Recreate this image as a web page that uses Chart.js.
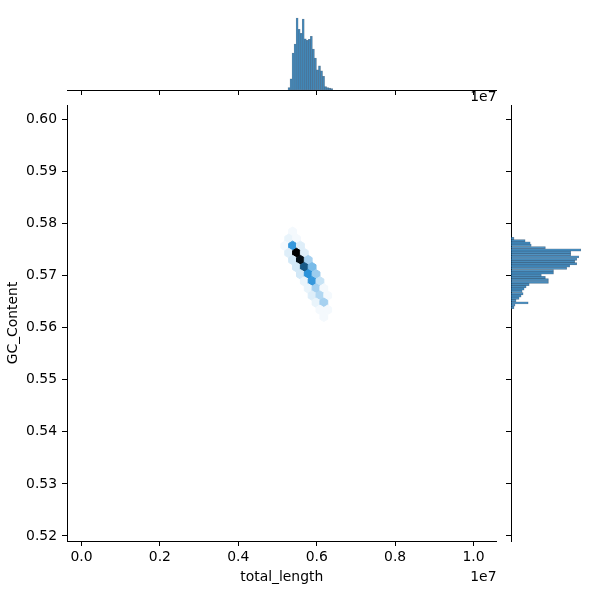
<!DOCTYPE html>
<html>
<head>
<meta charset="utf-8">
<script src="https://cdn.jsdelivr.net/npm/chart.js@4.4.0/dist/chart.umd.min.js"></script>
<style>
  html, body { margin: 0; padding: 0; background: #fff; }
  #wrap { position: relative; width: 600px; height: 600px; }
  #wrap canvas { position: absolute; left: 0; top: 0; }
</style>
</head>
<body>
<div id="wrap">
  <canvas id="joint" width="600" height="600"></canvas>
  <canvas id="margX" width="600" height="600"></canvas>
  <canvas id="margY" width="600" height="600"></canvas>
</div>
<script>
// hexbin cells: centres (total_length, GC_Content) and counts
const hexX = [
  5385090,
  5285480, 5484700,
  5186870, 5385090, 5584310,
  5285480, 5484700, 5683920,
  5385090, 5584310, 5783530,
  5484700, 5683920, 5883140,
  5584310, 5783530, 5982750,
  5683920, 5883140, 6082360,
  5783530, 5982750, 6181970,
  5883140, 6082360, 6281580,
  5982750, 6181970,
  6082360, 6281580,
  6181970
];
const hexY = [
  0.57842,
  0.57706, 0.57706,
  0.57570, 0.57570, 0.57570,
  0.57433, 0.57433, 0.57433,
  0.57297, 0.57297, 0.57297,
  0.57161, 0.57161, 0.57161,
  0.57024, 0.57024, 0.57024,
  0.56888, 0.56888, 0.56888,
  0.56752, 0.56752, 0.56752,
  0.56615, 0.56615, 0.56615,
  0.56479, 0.56479,
  0.56343, 0.56343,
  0.56207
];
const hexCount = [
  2,
  3, 2,
  2, 19, 4,
  4, 40, 4,
  5, 38, 9,
  5, 28, 13,
  5, 20, 10,
  3, 19, 6,
  3, 9, 2,
  4, 8, 2,
  3, 9,
  2, 2,
  2
];
const hexW = 199220;
const hexH = 0.001812;

// top marginal: histogram of total_length
const lenBins = [
  5293910, 5345730, 5397550, 5449370, 5501190, 5553010, 5604830, 5656650,
  5708470, 5760290, 5812110, 5863930, 5915750, 5967570, 6019390, 6071210,
  6123030, 6174850, 6226670, 6278490, 6330310, 6382130
];
const lenCounts = [5, 22, 73, 91, 142, 120, 112, 140, 101, 98, 100, 106, 81, 63, 40, 48, 38, 27, 7, 5, 4, 3];

// right marginal: histogram of GC_Content
const gcBins = [
  0.57713, 0.57668, 0.57624, 0.57580, 0.57536, 0.57492, 0.57448, 0.57403,
  0.57359, 0.57315, 0.57271, 0.57227, 0.57183, 0.57138, 0.57094, 0.57050,
  0.57006, 0.56962, 0.56918, 0.56873, 0.56829, 0.56785, 0.56741, 0.56697,
  0.56652, 0.56608, 0.56564, 0.56520, 0.56476, 0.56432, 0.56388
];
const gcCounts = [6, 28, 38, 40, 68, 138, 118, 118, 134, 130, 126, 130, 116, 110, 84, 84, 60, 68, 74, 74, 36, 30, 26, 22, 24, 20, 16, 10, 34, 8, 6];

const xTicks = [0, 2000000, 4000000, 6000000, 8000000, 10000000];
const yTicks = [0.52, 0.53, 0.54, 0.55, 0.56, 0.57, 0.58, 0.59, 0.60];

const X_MIN = -370000, X_MAX = 10587000;
const Y_MIN = 0.51904, Y_MAX = 0.602745;
const COUNT_MAX = 172;

Chart.defaults.font.family = "'DejaVu Sans', sans-serif";
Chart.defaults.font.size = 13.9;
Chart.defaults.color = '#000';
Chart.defaults.animation = false;

const tickGrid = { display: true, drawOnChartArea: false, drawTicks: true, tickLength: 5, tickColor: '#000', tickWidth: 1, offset: false };
const spine = { display: true, color: '#000', width: 1 };

// matplotlib hexbin colour: lightness from 1 to 0 through the hue of #1f77b4
const cMin = 1, cMax = Math.max(...hexCount);
function hexColor(c) {
  const t = (c - cMin) / (cMax - cMin);
  return 'hsl(204.5, 70.6%, ' + ((1 - t) * 100).toFixed(1) + '%)';
}

const hexPlugin = {
  id: 'hexCells',
  afterDatasetsDraw(chart) {
    const meta = chart.getDatasetMeta(0);
    const xs = chart.scales.x, ys = chart.scales.y;
    const ctx = chart.ctx;
    const a = chart.chartArea;
    ctx.save();
    ctx.beginPath();
    ctx.rect(a.left, a.top, a.right - a.left, a.bottom - a.top);
    ctx.clip();
    meta.data.forEach((pt, i) => {
      const cx = pt.x, cy = pt.y;
      const w = Math.abs(xs.getPixelForValue(hexX[i] + hexW / 2) - cx);
      const h = Math.abs(ys.getPixelForValue(hexY[i] + hexH / 2) - cy);
      const col = hexColor(hexCount[i]);
      ctx.beginPath();
      ctx.moveTo(cx, cy - h);
      ctx.lineTo(cx + w, cy - h / 2);
      ctx.lineTo(cx + w, cy + h / 2);
      ctx.lineTo(cx, cy + h);
      ctx.lineTo(cx - w, cy + h / 2);
      ctx.lineTo(cx - w, cy - h / 2);
      ctx.closePath();
      ctx.fillStyle = col;
      ctx.strokeStyle = col;
      ctx.lineWidth = 1;
      ctx.fill();
      ctx.stroke();
    });
    ctx.restore();
  }
};

function offsetText(y) {
  return {
    id: 'offsetText',
    afterDraw(chart) {
      const ctx = chart.ctx;
      ctx.save();
      ctx.font = "13.9px 'DejaVu Sans', sans-serif";
      ctx.fillStyle = '#000';
      ctx.textAlign = 'right';
      ctx.textBaseline = 'middle';
      ctx.fillText('1e7', chart.chartArea.right, y);
      ctx.restore();
    }
  };
}

// joint hexbin plot
new Chart(document.getElementById('joint'), {
  type: 'scatter',
  data: {
    datasets: [{
      data: hexX.map((x, i) => ({ x: x, y: hexY[i] })),
      pointRadius: 0,
      pointHoverRadius: 0
    }]
  },
  options: {
    responsive: false,
    layout: { padding: { top: 105, right: 103.5, bottom: 0, left: 0 } },
    plugins: { legend: { display: false }, tooltip: { enabled: false } },
    scales: {
      x: {
        type: 'linear', min: X_MIN, max: X_MAX,
        grid: tickGrid, border: spine,
        afterBuildTicks: s => { s.ticks = xTicks.map(v => ({ value: v })); },
        afterFit: s => { s.height = 59; },
        ticks: { padding: 3, maxRotation: 0, callback: v => (v / 1e7).toFixed(1) },
        title: { display: true, text: 'total_length', padding: { top: 0, bottom: 14.6 } }
      },
      y: {
        type: 'linear', min: Y_MIN, max: Y_MAX,
        grid: tickGrid, border: spine,
        afterBuildTicks: s => { s.ticks = yTicks.map(v => ({ value: v })); },
        afterFit: s => { s.width = 67; },
        ticks: { padding: 5, callback: v => v.toFixed(2) },
        title: { display: true, text: 'GC_Content', padding: { top: 4.6, bottom: 0 } }
      }
    }
  },
  plugins: [hexPlugin, offsetText(577)]
});

// top marginal histogram
new Chart(document.getElementById('margX'), {
  type: 'bar',
  data: {
    datasets: [{
      data: lenBins.map((b, i) => ({ x: b, y: lenCounts[i] })),
      backgroundColor: 'rgba(31,119,180,0.75)',
      borderColor: 'rgba(20,50,80,0.55)',
      borderWidth: 0.5,
      borderSkipped: false,
      barPercentage: 1,
      categoryPercentage: 1
    }]
  },
  options: {
    responsive: false,
    layout: { padding: { top: 3, right: 103.5, bottom: 0, left: 67 } },
    plugins: { legend: { display: false }, tooltip: { enabled: false } },
    scales: {
      x: {
        type: 'linear', min: X_MIN, max: X_MAX, offset: false,
        grid: tickGrid, border: spine,
        afterBuildTicks: s => { s.ticks = xTicks.map(v => ({ value: v })); },
        afterFit: s => { s.height = 510; },
        ticks: { display: false }
      },
      y: { type: 'linear', min: 0, max: COUNT_MAX, display: false }
    }
  },
  plugins: [offsetText(97)]
});

// right marginal histogram
new Chart(document.getElementById('margY'), {
  type: 'bar',
  data: {
    datasets: [{
      data: gcBins.map((b, i) => ({ x: gcCounts[i], y: b })),
      backgroundColor: 'rgba(31,119,180,0.75)',
      borderColor: 'rgba(20,50,80,0.55)',
      borderWidth: 0.5,
      borderSkipped: false,
      barPercentage: 1,
      categoryPercentage: 1
    }]
  },
  options: {
    indexAxis: 'y',
    responsive: false,
    layout: { padding: { top: 105, right: 2, bottom: 59, left: 0 } },
    plugins: { legend: { display: false }, tooltip: { enabled: false } },
    scales: {
      y: {
        type: 'linear', min: Y_MIN, max: Y_MAX, offset: false,
        grid: tickGrid, border: spine,
        afterBuildTicks: s => { s.ticks = yTicks.map(v => ({ value: v })); },
        afterFit: s => { s.width = 511; },
        ticks: { display: false }
      },
      x: { type: 'linear', min: 0, max: COUNT_MAX, display: false }
    }
  }
});
</script>
</body>
</html>
